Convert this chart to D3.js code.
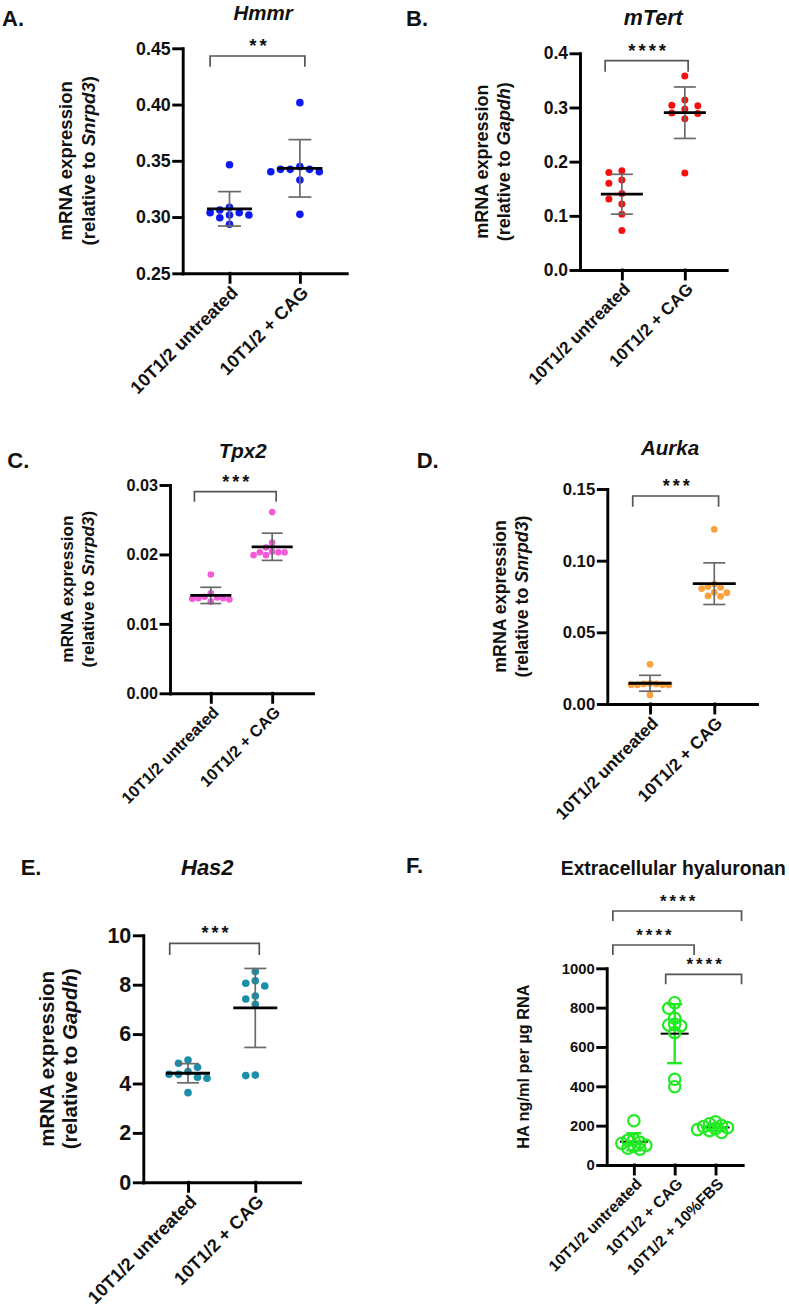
<!DOCTYPE html>
<html>
<head>
<meta charset="utf-8">
<script src="https://cdnjs.cloudflare.com/ajax/libs/d3/7.8.5/d3.min.js"></script>
<style>
  body { margin: 0; background: #fff; }
  svg text { font-family: 'Liberation Sans', Arial, sans-serif; font-weight: bold; fill: #111; }
</style>
</head>
<body>
<div class="root"></div>
<script>

// ---------------- data ----------------
var groupsTwo   = ['10T1/2 untreated', '10T1/2 + CAG'];
var groupsThree = ['10T1/2 untreated', '10T1/2 + CAG', '10T1/2 + 10%FBS'];

var hmmrUntreated = [0.3465, 0.3087, 0.3063, 0.3039, 0.3039, 0.3018, 0.3018, 0.2994, 0.2936];
var hmmrCag       = [0.4017, 0.3448, 0.3424, 0.3424, 0.3424, 0.3403, 0.3403, 0.3330, 0.3024];
var hmmrTicks     = [0.25, 0.30, 0.35, 0.40, 0.45];

var mtertUntreated = [0.183, 0.180, 0.166, 0.160, 0.141, 0.131, 0.122, 0.103, 0.073];
var mtertCag       = [0.358, 0.314, 0.304, 0.303, 0.297, 0.290, 0.289, 0.279, 0.179];
var mtertTicks     = [0.0, 0.1, 0.2, 0.3, 0.4];

var tpx2Untreated = [0.0171, 0.0144, 0.0139, 0.0137, 0.0137, 0.0138, 0.0136, 0.0135, 0.0132];
var tpx2Cag       = [0.0261, 0.0217, 0.0210, 0.0204, 0.0203, 0.0203, 0.0203, 0.0199, 0.0199];
var tpx2Ticks     = [0.00, 0.01, 0.02, 0.03];

var aurkaUntreated = [0.0277, 0.0144, 0.0140, 0.0140, 0.0135, 0.0135, 0.0135, 0.0133, 0.0063];
var aurkaCag       = [0.1219, 0.0837, 0.0819, 0.0814, 0.0805, 0.0779, 0.0777, 0.0754, 0.0751];
var aurkaTicks     = [0.00, 0.05, 0.10, 0.15];

var has2Untreated = [4.95, 4.82, 4.66, 4.48, 4.37, 4.37, 4.25, 4.21, 3.63];
var has2Cag       = [8.53, 8.16, 8.06, 7.95, 7.54, 7.42, 7.21, 4.34, 4.32];
var has2Ticks     = [0, 2, 4, 6, 8, 10];

var haUntreated = [225, 130, 125, 115, 110, 100, 95, 85, 80];
var haCag       = [825, 797, 746, 715, 712, 707, 673, 436, 398];
var haFbs       = [220, 210, 200, 195, 190, 185, 180, 175, 165];
var haTicks     = [0, 200, 400, 600, 800, 1000];

// comparisons: [group a, group b, stars]
var twoGroupSig = {hmmr: '**', mtert: '****', tpx2: '***', aurka: '***', has2: '***'};
var haComparisons = [[0, 2, '****'], [0, 1, '****'], [1, 2, '****']];


var svg = d3.select('.root')
            .append('svg')
            .attr('width', 789)
            .attr('height', 1315)
            .style('background', '#fff');


// beeswarm-ish horizontal spread, like the prism scatter plots
function swarm(values, y, step, diam) {
  var placed = [];
  var order = values.map((v, i) => i).sort((a, b) => values[b] - values[a]);
  order.forEach(function (i) {
    var py = y(values[i]);
    for (var k = 0; k < 30; k++) {
      var off = (k % 2 ? -1 : 1) * Math.ceil(k / 2) * step;
      var hit = placed.some(q => Math.abs(q.dx - off) < step * 0.9 && Math.abs(q.y - py) < diam);
      if (!hit) { placed.push({v: values[i], y: py, dx: off}); break; }
    }
  });
  return placed;
}


function drawPanel(p) {
  var g = svg.append('g');

  var y = d3.scaleLinear()
            .domain(d3.extent(p.ticks))
            .range([p.bottom, p.top]);

  var x = d3.scalePoint()
            .domain(p.groups)
            .range([p.left, p.left + p.width])
            .padding(0.665);

  // axes
  var yAxis = g.append('g')
               .attr('transform', 'translate(' + p.left + ',0)')
               .call(d3.axisLeft(y).tickValues(p.ticks).tickFormat(d3.format(p.fmt))
                       .tickSize(9).tickSizeOuter(0).tickPadding(3));

  var xAxis = g.append('g')
               .attr('transform', 'translate(0,' + p.bottom + ')')
               .call(d3.axisBottom(x).tickSize(9).tickSizeOuter(0).tickFormat(''));

  g.selectAll('.domain, .tick line')
   .style('stroke', '#000')
   .style('stroke-width', 2.9)
   .style('stroke-linecap', 'square');

  yAxis.selectAll('text')
       .style('font-size', p.tickSize + 'px')
       .style('font-family', "'Liberation Sans', Arial, sans-serif")
       .style('font-weight', 'bold')
       .attr('fill', '#111');

  // rotated category labels
  g.selectAll('.cat')
   .data(p.groups)
   .enter().append('text')
   .attr('class', 'cat')
   .attr('transform', d => 'translate(' + (x(d) + 5) + ',' + (p.bottom + 16) + ') rotate(-45)')
   .attr('text-anchor', 'end')
   .attr('dy', '0.35em')
   .style('font-size', p.catSize + 'px')
   .text(d => d);

  // y axis title
  var yt = g.append('text')
            .attr('transform', 'translate(' + p.ylabX[0] + ',' + ((p.top + p.bottom) / 2) + ') rotate(-90)')
            .attr('text-anchor', 'middle')
            .attr('dy', '0.35em')
            .style('font-size', p.ylabSize + 'px')
            .text(p.ylab[0]);
  if (p.ylab.length > 1) {
    var yt2 = g.append('text')
               .attr('transform', 'translate(' + p.ylabX[1] + ',' + ((p.top + p.bottom) / 2) + ') rotate(-90)')
               .attr('text-anchor', 'middle')
               .attr('dy', '0.35em')
               .style('font-size', p.ylabSize + 'px');
    yt2.append('tspan').text('(relative to ');
    yt2.append('tspan').style('font-style', 'italic').text(p.ylab[1]);
    yt2.append('tspan').text(')');
  }

  // title and panel letter
  g.append('text')
   .attr('x', p.titleX).attr('y', p.titleY)
   .attr('text-anchor', 'middle')
   .style('font-size', p.titleSize + 'px')
   .style('font-style', p.italic ? 'italic' : 'normal')
   .text(p.title);

  g.append('text')
   .attr('x', p.letterX).attr('y', p.letterY)
   .style('font-size', '22px')
   .text(p.letter);

  // points, mean and SD
  p.series.forEach(function (vals, i) {
    var cx = x(p.groups[i]);
    var m = d3.mean(vals), sd = d3.deviation(vals);
    var pts = swarm(vals, y, p.step, p.diam);

    var dots = g.append('g');
    var bars = g.append('g');
    if (p.hollow) dots.raise();

    dots.selectAll('circle')
        .data(pts)
        .enter().append('circle')
        .attr('cx', d => cx + d.dx)
        .attr('cy', d => d.y)
        .attr('r', p.r)
        .style('fill', p.hollow ? 'none' : p.color)
        .style('stroke', p.hollow ? p.color : 'none')
        .style('stroke-width', 2.2);

    var barColor = p.hollow ? p.color : '#6a6a6a';
    bars.append('line')
        .attr('x1', cx).attr('x2', cx)
        .attr('y1', y(m + sd)).attr('y2', y(m - sd))
        .style('stroke', barColor).style('stroke-width', p.hollow ? 2.4 : 1.7);
    [m + sd, m - sd].forEach(function (v) {
      bars.append('line')
          .attr('x1', cx - p.capW / 2).attr('x2', cx + p.capW / 2)
          .attr('y1', y(v)).attr('y2', y(v))
          .style('stroke', barColor).style('stroke-width', p.hollow ? 2.4 : 1.7);
    });
    bars.append('line')
        .attr('x1', cx - p.meanW / 2).attr('x2', cx + p.meanW / 2)
        .attr('y1', y(m)).attr('y2', y(m))
        .style('stroke', '#000').style('stroke-width', p.hollow ? 2 : 2.8);
  });

  // significance brackets
  p.sig.forEach(function (s) {
    var x1 = x(p.groups[s.a]) + s.off[0],
        x2 = x(p.groups[s.b]) + s.off[1];
    g.append('path')
     .attr('d', 'M' + x1 + ',' + (s.y + s.leg) + 'V' + s.y + 'H' + x2 + 'V' + (s.y + s.leg))
     .style('fill', 'none')
     .style('stroke', '#555')
     .style('stroke-width', 1.7);
    g.append('text')
     .attr('x', (x1 + x2) / 2 + 2)
     .attr('y', s.y - 4)
     .attr('text-anchor', 'middle')
     .style('font-size', p.starSize + 'px')
     .style('letter-spacing', '3px')
     .text(s.label);
  });
}


var panels = [
  {letter: 'A.', letterX: 2, letterY: 26, title: 'Hmmr', italic: true, titleX: 263, titleY: 20, titleSize: 20.5,
   groups: groupsTwo, series: [hmmrUntreated, hmmrCag], ticks: hmmrTicks, fmt: '.2f', color: '#0d1af2',
   left: 182.7, top: 48.3, bottom: 273.3, width: 164,
   ylab: ['mRNA expression', 'Snrpd3'], ylabX: [65, 88], ylabSize: 18.6, tickSize: 17.8, catSize: 18, starSize: 18.5,
   r: 3.8, step: 9.7, diam: 7.6, capW: 23, meanW: 45,
   sig: [{a: 0, b: 1, off: [-19.4, 5], y: 56, leg: 10.7, label: twoGroupSig.hmmr}]},

  {letter: 'B.', letterX: 406, letterY: 26, title: 'mTert', italic: true, titleX: 653.3, titleY: 25, titleSize: 21.5,
   groups: groupsTwo, series: [mtertUntreated, mtertCag], ticks: mtertTicks, fmt: '.1f', color: '#f51010',
   left: 580, top: 53.3, bottom: 270, width: 146.7,
   ylab: ['mRNA expression', 'Gapdh'], ylabX: [481.7, 503.3], ylabSize: 18, tickSize: 17.5, catSize: 17, starSize: 18.5,
   r: 3.5, step: 13, diam: 7, capW: 22, meanW: 42,
   sig: [{a: 0, b: 1, off: [-16.7, 3.3], y: 60.7, leg: 11, label: twoGroupSig.mtert}]},

  {letter: 'C.', letterX: 7.3, letterY: 468.3, title: 'Tpx2', italic: true, titleX: 242.7, titleY: 457.7, titleSize: 20.5,
   groups: groupsTwo, series: [tpx2Untreated, tpx2Cag], ticks: tpx2Ticks, fmt: '.2f', color: '#f25cd9',
   left: 170, top: 485, bottom: 693.3, width: 143,
   ylab: ['mRNA expression', 'Snrpd3'], ylabX: [66.7, 88.3], ylabSize: 17.2, tickSize: 16.2, catSize: 16.3, starSize: 18,
   r: 3.3, step: 6.2, diam: 6.6, capW: 21, meanW: 41,
   sig: [{a: 0, b: 1, off: [-16.4, 4], y: 491.7, leg: 10, label: twoGroupSig.tpx2}]},

  {letter: 'D.', letterX: 416.7, letterY: 468.3, title: 'Aurka', italic: true, titleX: 670, titleY: 455, titleSize: 20.5,
   groups: groupsTwo, series: [aurkaUntreated, aurkaCag], ticks: aurkaTicks, fmt: '.2f', color: '#f9a23e',
   left: 607.3, top: 489, bottom: 704, width: 149.7,
   ylab: ['mRNA expression', 'Snrpd3'], ylabX: [500, 521.7], ylabSize: 17.8, tickSize: 16.8, catSize: 17.2, starSize: 18,
   r: 3.4, step: 6.3, diam: 6.8, capW: 22, meanW: 43,
   sig: [{a: 0, b: 1, off: [-17.3, 4.3], y: 496, leg: 10.7, label: twoGroupSig.aurka}]},

  {letter: 'E.', letterX: 20.7, letterY: 875, title: 'Has2', italic: true, titleX: 207.3, titleY: 875, titleSize: 22,
   groups: groupsTwo, series: [has2Untreated, has2Cag], ticks: has2Ticks, fmt: 'd', color: '#1b8ea8',
   left: 143.3, top: 935.3, bottom: 1182.3, width: 156.7,
   ylab: ['mRNA expression', 'Gapdh'], ylabX: [46.7, 70], ylabSize: 20.5, tickSize: 21.5, catSize: 18.2, starSize: 18,
   r: 3.8, step: 9.5, diam: 7.6, capW: 22, meanW: 44,
   sig: [{a: 0, b: 1, off: [-18.3, 4], y: 943.3, leg: 11.7, label: twoGroupSig.has2}]},

  {letter: 'F.', letterX: 406, letterY: 873.3, title: 'Extracellular hyaluronan', italic: false, titleX: 673.3, titleY: 875, titleSize: 19.3,
   groups: groupsThree, series: [haUntreated, haCag, haFbs], ticks: haTicks, fmt: 'd', color: '#22ea22', hollow: true,
   left: 606.7, top: 968.3, bottom: 1165, width: 136,
   ylab: ['HA ng/ml per \u00b5g RNA'], ylabX: [523.3], ylabSize: 16.3, tickSize: 14.8, catSize: 15.6, starSize: 17,
   r: 5.7, step: 6, diam: 6, capW: 15, meanW: 28,
   sig: [{a: 0, b: 2, off: [-21, 26], y: 911, leg: 10, label: haComparisons[0][2]},
         {a: 0, b: 1, off: [-21, 19.4], y: 945, leg: 10, label: haComparisons[1][2]},
         {a: 1, b: 2, off: [-9, 26], y: 974.3, leg: 10, label: haComparisons[2][2]}]}
];

panels.forEach(drawPanel);

</script>
</body>
</html>
